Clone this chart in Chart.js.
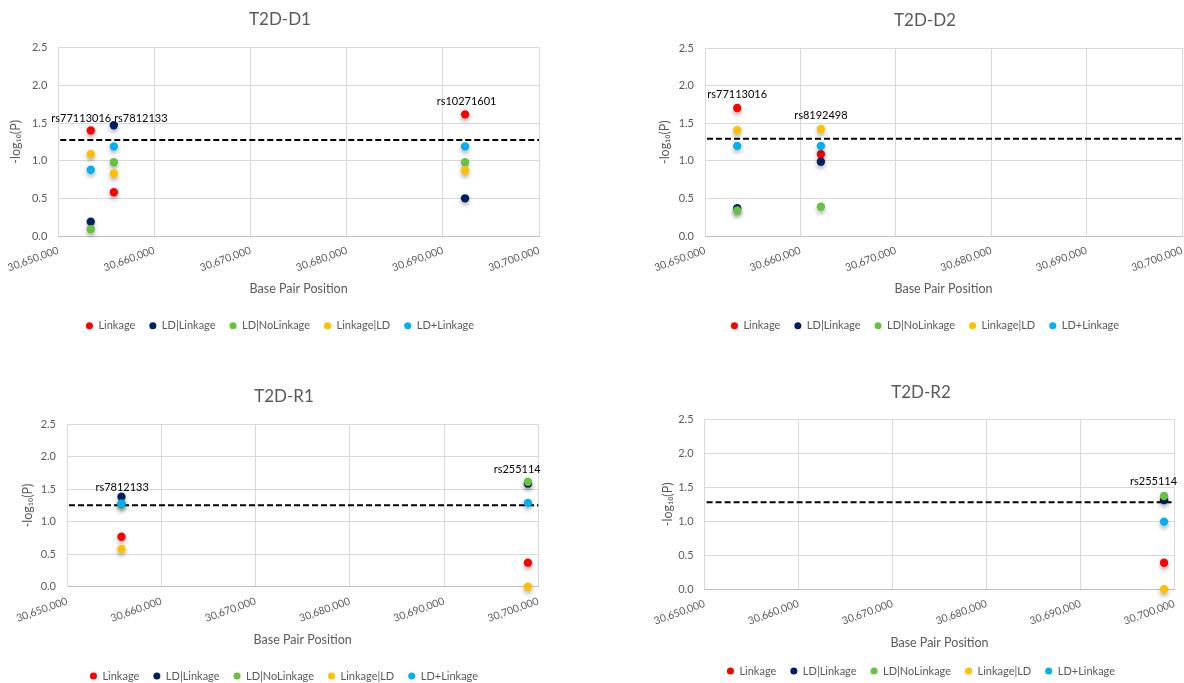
<!DOCTYPE html>
<html>
<head>
<meta charset="utf-8">
<title>T2D</title>
<script src="https://cdn.jsdelivr.net/npm/chart.js@4.4.1/dist/chart.umd.min.js"></script>
<style>
    html, body { margin: 0; padding: 0; background: #fff; overflow: hidden; width: 1184px; height: 683px; }
    canvas { position: absolute; }
</style>
</head>
<body>
<canvas id="graficoD1"></canvas>
<canvas id="graficoD2"></canvas>
<canvas id="graficoR1"></canvas>
<canvas id="graficoR2"></canvas>
<script>
// series and axes
var seriesNames = ['Linkage', 'LD|Linkage', 'LD|NoLinkage', 'Linkage|LD', 'LD+Linkage'];
var xTicks = [30650000, 30660000, 30670000, 30680000, 30690000, 30700000];
var yTicks = [0, 0.5, 1, 1.5, 2, 2.5];

// T2D-D1
var d1Snps = ['rs77113016', 'rs7812133', 'rs10271601'];
var d1Positions = [30653380, 30655780, 30692310];
var d1Linkage = [1.40, 0.58, 1.615];
var d1LdLinkage = [0.19, 1.47, 0.50];
var d1LdNoLinkage = [0.09, 0.98, 0.98];
var d1LinkageLd = [1.09, 0.83, 0.87];
var d1LdPlusLinkage = [0.88, 1.19, 1.19];
var d1Threshold = 1.275;

// T2D-D2
var d2Snps = ['rs77113016', 'rs8192498'];
var d2Positions = [30653380, 30662150];
var d2Linkage = [1.705, 1.09];
var d2LdLinkage = [0.37, 0.99];
var d2LdNoLinkage = [0.34, 0.39];
var d2LinkageLd = [1.41, 1.425];
var d2LdPlusLinkage = [1.20, 1.20];
var d2Threshold = 1.296;

// T2D-R1
var r1Snps = ['rs7812133', 'rs255114'];
var r1Positions = [30655780, 30698900];
var r1Linkage = [0.77, 0.37];
var r1LdLinkage = [1.385, 1.59];
var r1LdNoLinkage = [1.27, 1.616];
var r1LinkageLd = [0.58, 0.0];
var r1LdPlusLinkage = [1.28, 1.29];
var r1Threshold = 1.253;

// T2D-R2
var r2Snps = ['rs255114'];
var r2Positions = [30698900];
var r2Linkage = [0.39];
var r2LdLinkage = [1.313];
var r2LdNoLinkage = [1.372];
var r2LinkageLd = [0.0];
var r2LdPlusLinkage = [0.995];
var r2Threshold = 1.279;

// styles
var seriesColors = ['#FF0000', '#002060', '#66C23F', '#FFC000', '#00B0F0'];
var fontName = 'Lato, "Open Sans", sans-serif';
var grayText = '#595959';

// target page positions of each panel (pixels)
var layouts = {
    graficoD1: { left: 0, top: 0, width: 560, height: 345, titleY: 20, plotLeft: 58, plotRight: 539, plotTop: 47.7, plotBottom: 236, xTitleY: 289, yTitleX: 16, legendY: 325.7, labelDx: [-9.5, 27, 1.5], labelDy: [12, 7, 13] },
    graficoD2: { left: 645, top: 0, width: 560, height: 345, titleY: 20.7, plotLeft: 705, plotRight: 1182, plotTop: 48.3, plotBottom: 236, xTitleY: 289, yTitleX: 665, legendY: 325.7, labelDx: [0, 0], labelDy: [14, 14] },
    graficoR1: { left: 4, top: 380, width: 560, height: 315, titleY: 396.7, plotLeft: 67, plotRight: 538.3, plotTop: 424.3, plotBottom: 586.7, xTitleY: 640, yTitleX: 27.8, legendY: 676, labelDx: [0.7, -10.7], labelDy: [9, 12.7] },
    graficoR2: { left: 641, top: 380, width: 560, height: 315, titleY: 392.7, plotLeft: 704.6, plotRight: 1174.4, plotTop: 419.3, plotBottom: 589.3, xTitleY: 643.3, yTitleX: 668, legendY: 671, labelDx: [-10.5], labelDy: [15] }
};

var titleSize = 17, axisTitleSize = 12.5, legendSize = 11, legendPad = 14;

// dashed significance line, drawn under the points
var thresholdPlugin = {
    id: 'threshold',
    beforeDatasetsDraw: function (chart, args, opts) {
        var area = chart.chartArea;
        var y = chart.scales.y.getPixelForValue(opts.value);
        var ctx = chart.ctx;
        ctx.save();
        ctx.strokeStyle = '#000';
        ctx.lineWidth = 2;
        ctx.setLineDash([6, 3]);
        ctx.beginPath();
        ctx.moveTo(area.left + 2, y);
        ctx.lineTo(area.right, y);
        ctx.stroke();
        ctx.restore();
    }
};

// soft shadow under the markers, like the Excel original
var shadowPlugin = {
    id: 'markerShadow',
    beforeDatasetDraw: function (chart) {
        var ctx = chart.ctx;
        ctx.save();
        ctx.shadowColor = 'rgba(0,0,0,0.3)';
        ctx.shadowBlur = 4;
        ctx.shadowOffsetY = 3;
    },
    afterDatasetDraw: function (chart) {
        chart.ctx.restore();
    }
};

// SNP names above the highest point of each column
var snpLabelPlugin = {
    id: 'snpLabels',
    afterDatasetsDraw: function (chart, args, opts) {
        var ctx = chart.ctx;
        ctx.save();
        ctx.fillStyle = '#000';
        ctx.font = '11px ' + fontName;
        ctx.textAlign = 'center';
        ctx.textBaseline = 'middle';
        opts.names.forEach(function (name, j) {
            var top = 0;
            opts.series.forEach(function (values) {
                if (values[j] > top) top = values[j];
            });
            var x = chart.scales.x.getPixelForValue(opts.positions[j]);
            var y = chart.scales.y.getPixelForValue(top);
            ctx.fillText(name, x + opts.dx[j], y - opts.dy[j]);
        });
        ctx.restore();
    }
};

function CreateChart(canvasId, title, snps, positions, series, threshold) {
    var p = layouts[canvasId];
    var canvas = document.getElementById(canvasId);
    canvas.width = p.width;
    canvas.height = p.height;
    canvas.style.left = p.left + 'px';
    canvas.style.top = p.top + 'px';

    var titlePadTop = p.titleY - p.top - titleSize * 0.6;
    var titlePadBottom = (p.plotTop - p.top) - titlePadTop - titleSize * 1.2;
    var legendTop = p.legendY - legendPad - legendSize / 2;
    var padBottom = (p.top + p.height) - p.legendY - 10 - legendSize / 2;
    var xAxisHeight = legendTop - p.plotBottom;
    var xTitlePad = legendTop - p.xTitleY - axisTitleSize * 0.6;
    var yAxisWidth = p.plotLeft - p.left;
    var yTitlePad = p.yTitleX - p.left - axisTitleSize * 0.6;
    var rightGap = p.left + p.width - p.plotRight;

    var datasets = [];
    for (var i = 0; i < seriesNames.length; i++) {
        var pts = [];
        for (var j = 0; j < positions.length; j++) {
            pts.push({ x: positions[j], y: series[i][j] });
        }
        datasets.push({
            label: seriesNames[i],
            data: pts,
            backgroundColor: seriesColors[i],
            borderColor: seriesColors[i],
            pointRadius: 4.2,
            pointBorderWidth: 0,
            pointStyle: 'circle',
            order: seriesNames.length - i,
            clip: false
        });
    }

    return new Chart(canvas, {
        type: 'scatter',
        data: { datasets: datasets },
        plugins: [thresholdPlugin, shadowPlugin, snpLabelPlugin],
        options: {
            responsive: false,
            animation: false,
            devicePixelRatio: 1,
            layout: { padding: { left: 0, top: 0, right: 0, bottom: padBottom } },
            scales: {
                x: {
                    type: 'linear',
                    min: xTicks[0],
                    max: xTicks[xTicks.length - 1],
                    afterBuildTicks: function (scale) {
                        scale.ticks = xTicks.map(function (v) { return { value: v }; });
                    },
                    afterFit: function (scale) { scale.height = xAxisHeight; },
                    grid: { color: '#d9d9d9', drawTicks: false },
                    border: { color: '#bfbfbf' },
                    ticks: {
                        autoSkip: false,
                        minRotation: 20,
                        maxRotation: 20,
                        padding: 8,
                        color: grayText,
                        font: { family: fontName, size: 10.5 },
                        callback: function (v) { return Number(v).toLocaleString('en-US'); }
                    },
                    title: {
                        display: true,
                        text: 'Base Pair Position',
                        color: grayText,
                        font: { family: fontName, size: axisTitleSize },
                        padding: { top: 0, bottom: xTitlePad }
                    }
                },
                y: {
                    min: yTicks[0],
                    max: yTicks[yTicks.length - 1],
                    afterBuildTicks: function (scale) {
                        scale.ticks = yTicks.map(function (v) { return { value: v }; });
                    },
                    afterFit: function (scale) { scale.width = yAxisWidth; },
                    grid: { color: '#d9d9d9', drawTicks: false },
                    border: { color: '#d9d9d9' },
                    ticks: {
                        padding: 11,
                        color: grayText,
                        font: { family: fontName, size: 11 },
                        callback: function (v) { return Number(v).toFixed(1); }
                    },
                    title: {
                        display: true,
                        text: '-log\u2081\u2080(P)',
                        color: grayText,
                        font: { family: fontName, size: axisTitleSize },
                        padding: { top: yTitlePad, bottom: 0 }
                    }
                },
                // empty box on the right so title and legend stay centred on the whole canvas
                gap: {
                    position: 'right',
                    min: 0,
                    max: 1,
                    afterFit: function (scale) { scale.width = rightGap; },
                    grid: { display: false },
                    border: { display: false },
                    ticks: { display: false }
                }
            },
            plugins: {
                title: {
                    display: true,
                    text: title,
                    color: grayText,
                    font: { family: fontName, size: titleSize, weight: 'normal' },
                    padding: { top: titlePadTop, bottom: titlePadBottom }
                },
                legend: {
                    position: 'bottom',
                    labels: {
                        usePointStyle: true,
                        pointStyle: 'circle',
                        boxWidth: 7,
                        boxHeight: 5,
                        padding: legendPad,
                        color: grayText,
                        font: { family: fontName, size: legendSize },
                        sort: function (a, b) { return a.datasetIndex - b.datasetIndex; }
                    }
                },
                tooltip: { enabled: false },
                threshold: { value: threshold },
                snpLabels: { names: snps, positions: positions, series: series, dx: p.labelDx, dy: p.labelDy }
            }
        }
    });
}

CreateChart('graficoD1', 'T2D-D1', d1Snps, d1Positions,
    [d1Linkage, d1LdLinkage, d1LdNoLinkage, d1LinkageLd, d1LdPlusLinkage], d1Threshold);
CreateChart('graficoD2', 'T2D-D2', d2Snps, d2Positions,
    [d2Linkage, d2LdLinkage, d2LdNoLinkage, d2LinkageLd, d2LdPlusLinkage], d2Threshold);
CreateChart('graficoR1', 'T2D-R1', r1Snps, r1Positions,
    [r1Linkage, r1LdLinkage, r1LdNoLinkage, r1LinkageLd, r1LdPlusLinkage], r1Threshold);
CreateChart('graficoR2', 'T2D-R2', r2Snps, r2Positions,
    [r2Linkage, r2LdLinkage, r2LdNoLinkage, r2LinkageLd, r2LdPlusLinkage], r2Threshold);
</script>
</body>
</html>
